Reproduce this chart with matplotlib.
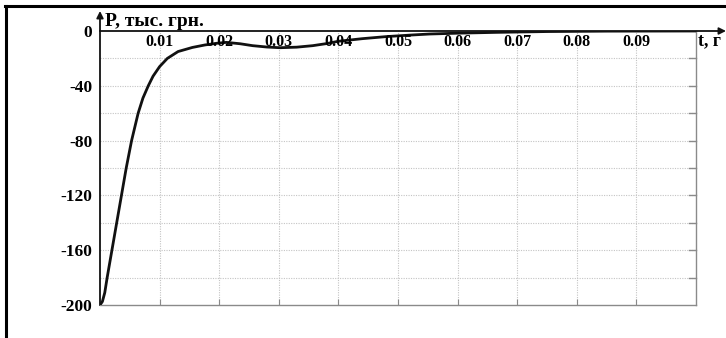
import matplotlib
matplotlib.use("Agg")
import matplotlib.pyplot as plt
from matplotlib.lines import Line2D

# curve: time, s  /  P, thousand UAH
t_vals = [0.0, 0.0004, 0.0008, 0.0012, 0.0020, 0.0028, 0.0036, 0.0044, 0.0053, 0.0064,
          0.0072, 0.0081, 0.0089, 0.0100, 0.0113, 0.0131, 0.0155, 0.0176, 0.0195,
          0.0212, 0.0235, 0.0256, 0.0280, 0.0302, 0.0330, 0.0357, 0.0380, 0.0400,
          0.0440, 0.0480, 0.0520, 0.0553, 0.0600, 0.0664, 0.0750, 0.0850, 0.1000]
p_vals = [-200, -197.5, -191, -180, -160, -140, -120, -100, -80, -60,
          -49, -40, -33, -26, -20, -15, -12, -10.2, -9.0,
          -8.3, -9.3, -10.7, -11.7, -12.2, -11.8, -10.7, -9.2, -7.5,
          -5.6, -4.1, -3.0, -2.2, -1.6, -1.0, -0.4, -0.1, 0.0]

x_ticks = [0.01, 0.02, 0.03, 0.04, 0.05, 0.06, 0.07, 0.08, 0.09]
x_tick_labels = ["0.01", "0.02", "0.03", "0.04", "0.05", "0.06", "0.07", "0.08", "0.09"]
y_major = [0, -40, -80, -120, -160, -200]
y_grid = [-20, -40, -60, -80, -100, -120, -140, -160, -180]

plt.rcParams["font.family"] = ["Liberation Serif", "DejaVu Serif"]
plt.rcParams["font.weight"] = "bold"

W, H = 726, 338
fig = plt.figure(figsize=(W / 100, H / 100), dpi=100)
ax = fig.add_axes([100 / W, (H - 305) / H, 596 / W, 274 / H])

ax.set_xlim(0, 0.1)
ax.set_ylim(-200, 0)

# dotted grid
for x in x_ticks:
    ax.axvline(x, color="#c4c4c4", lw=0.8, ls=(0, (1, 1.2)), zorder=1)
for y in y_grid:
    ax.axhline(y, color="#c4c4c4", lw=0.8, ls=(0, (1, 1.2)), zorder=1)

ax.plot(t_vals, p_vals, color="#111111", lw=2.0, zorder=3,
        solid_capstyle="round", solid_joinstyle="round")

# frame
for side in ["right", "bottom"]:
    ax.spines[side].set_color("#8a8a8a")
    ax.spines[side].set_linewidth(1.0)
ax.spines["top"].set_visible(False)
ax.spines["left"].set_color("#111111")
ax.spines["left"].set_linewidth(1.3)

ax.set_xticks(x_ticks)
ax.set_xticklabels([])
ax.tick_params(axis="x", direction="in", length=4, color="#8a8a8a", bottom=True, top=False)
ax.set_yticks(y_major)
ax.set_yticklabels([str(v) for v in y_major], fontsize=12.5, fontweight="bold")
ax.tick_params(axis="y", left=False, pad=2)

# small inward ticks on the right frame
for y in y_grid:
    ax.plot([0.1, 0.0988], [y, y], color="#8a8a8a", lw=1.0, clip_on=False, zorder=2)

# x tick labels sit just under the zero line
for x, lab in zip(x_ticks, x_tick_labels):
    ax.text(x, -8, lab, ha="center", va="center", fontsize=11.5, fontweight="bold", zorder=4)

# arrows for the axes
ax.annotate("", xy=(726 / W, 1 - 31 / H), xytext=(100 / W, 1 - 31 / H),
            xycoords="figure fraction", textcoords="figure fraction",
            arrowprops=dict(arrowstyle="-|>", color="#111111", lw=1.3,
                            mutation_scale=10, shrinkA=0, shrinkB=0))
ax.annotate("", xy=(100 / W, 1 - 11 / H), xytext=(100 / W, 1 - 31 / H),
            xycoords="figure fraction", textcoords="figure fraction",
            arrowprops=dict(arrowstyle="-|>", color="#111111", lw=1.3,
                            mutation_scale=10, shrinkA=0, shrinkB=0))

fig.text(105 / W, 1 - 21 / H, "P, тыс. грн.", fontsize=14, fontweight="bold",
         ha="left", va="center")
fig.text(698 / W, 1 - 41 / H, "t, г", fontsize=13, fontweight="bold",
         ha="left", va="center")

# outer border of the picture (left and top)
fig.add_artist(Line2D([6 / W, 6 / W], [0, 1 - 6 / H], color="black", lw=2.2,
                      transform=fig.transFigure))
fig.add_artist(Line2D([5 / W, 1], [1 - 6 / H, 1 - 6 / H], color="black", lw=2.2,
                      transform=fig.transFigure))

fig.savefig("out.png", dpi=100)
